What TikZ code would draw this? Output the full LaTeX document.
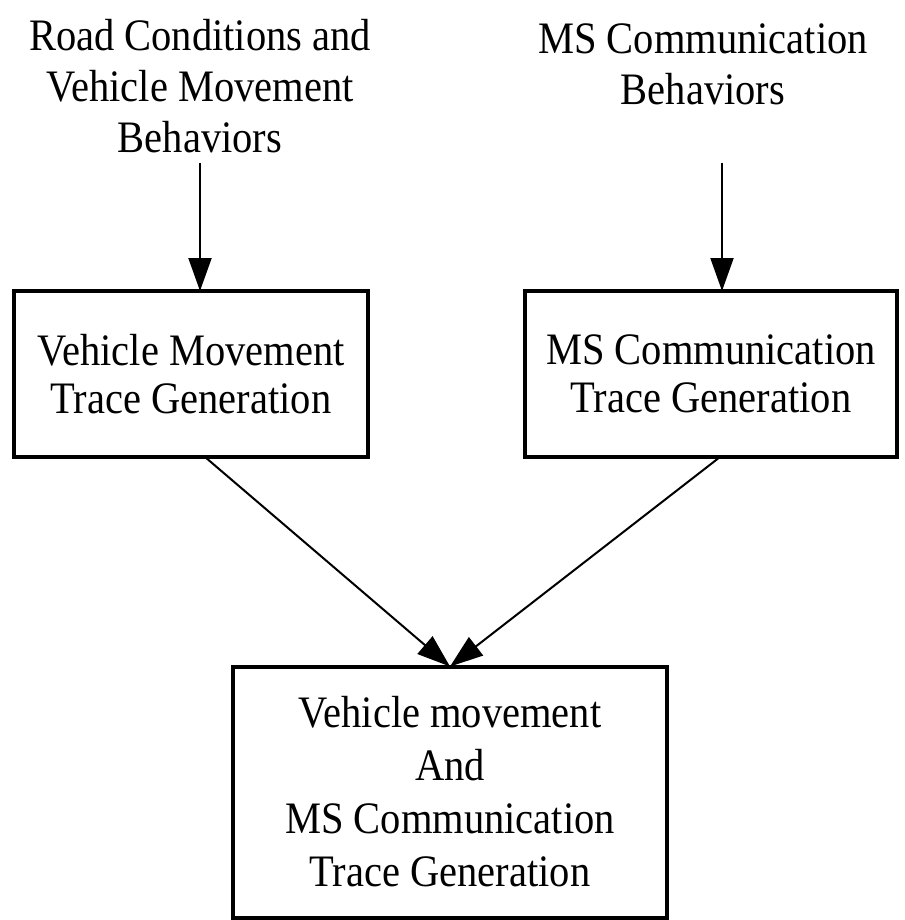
\documentclass[tikz,border=0pt]{standalone}
\usepackage{fontspec}
\setmainfont{Liberation Serif}[FakeStretch=0.9]
\usetikzlibrary{arrows.meta}

\tikzset{
  label text/.style={align=center, inner sep=0pt, outer sep=0pt,
    font=\fontsize{45}{51}\selectfont},
  stage box/.style={draw, line width=4pt, align=center, inner sep=0pt,
    outer sep=0pt, font=\fontsize{45}{48}\selectfont},
  flow/.style={line width=2pt, -{Triangle[width=23pt,length=33pt]}}
}

\begin{document}
\begin{tikzpicture}[x=1pt, y=-1pt]
  \useasboundingbox (0,0) rectangle (904,920);

  % inputs
  \node[label text] (road) at (200,86)
    {Road Conditions and\\Vehicle Movement\\Behaviors};
  \node[label text] (comm) at (703,64)
    {MS Communication\\Behaviors};

  % generation stages
  \node[stage box, minimum width=354pt, minimum height=166pt] (vmt) at (191,374)
    {Vehicle Movement\\Trace Generation};
  \node[stage box, minimum width=372pt, minimum height=166pt] (mct) at (711,374)
    {MS Communication\\Trace Generation};
  \node[stage box, minimum width=434pt, minimum height=251pt,
        font=\fontsize{45}{53}\selectfont] (all) at (450,792)
    {Vehicle movement\\And\\MS Communication\\Trace Generation};

  % helper ends of the connectors
  \coordinate (roadout) at (200,163);
  \coordinate (commout) at (722,163);

  \draw[flow] (roadout) -- (roadout |- vmt.north);
  \draw[flow] (commout) -- (commout |- mct.north);
  \draw[flow] ([xshift=14pt]vmt.south) -- (all.north);
  \draw[flow] ([xshift=9pt]mct.south) -- (all.north);
\end{tikzpicture}
\end{document}
